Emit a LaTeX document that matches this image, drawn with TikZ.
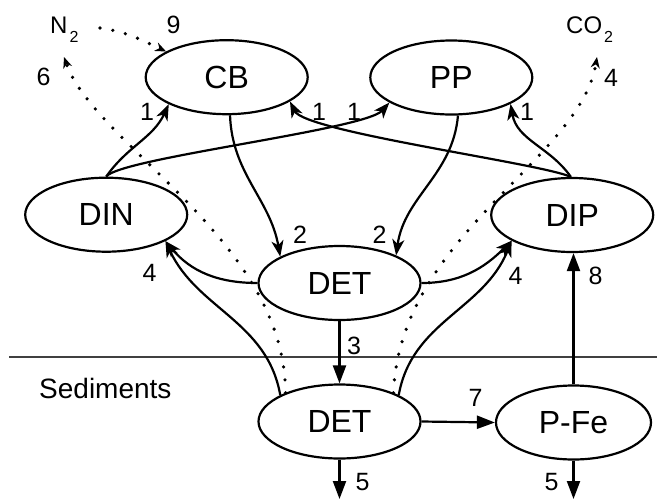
\documentclass[tikz,border=0pt]{standalone}
\usepackage{fontspec}
\setmainfont{Liberation Sans}
\usetikzlibrary{shapes.geometric,arrows.meta}
\newcommand\subtwo{\kern2pt\raisebox{-9pt}{\fontsize{16}{17}\selectfont 2}}
\begin{document}
\begin{tikzpicture}[x=1pt,y=1pt,
 ell/.style={ellipse,draw,line width=2.2pt,minimum width=162pt,minimum height=74pt,inner sep=0pt,font=\fontsize{32}{36}\selectfont},
 flow/.style={line width=2.2pt,-{Stealth[length=16pt,width=12pt,inset=4.5pt]}},
 sflow/.style={line width=2.2pt,-{Triangle[length=18pt,width=13pt]}},
 dotflow/.style={line width=3.6pt,line cap=round,dash pattern=on 0pt off 13pt,-{Stealth[length=11pt,width=9pt,inset=3.5pt]}},
 num/.style={inner sep=0pt,font=\fontsize{25}{28}\selectfont},
 gas/.style={inner sep=0pt,anchor=base west,font=\fontsize{24}{28}\selectfont}]
\path[use as bounding box] (0,0) rectangle (657,-499);

% nodes
\node[ell] (CB)  at (226.7,-77.2) {CB};
\node[ell] (PP)  at (451.3,-77.5) {PP};
\node[ell] (DIN) at (106.2,-214.7) {DIN};
\node[ell] (DIP) at (572.2,-215) {DIP};
\node[ell] (DET) at (339.5,-283) {DET};
\node[ell] (DETs) at (339.5,-421.5) {DET};
\node[ell,minimum width=155pt] (PFe) at (573.5,-422.5) {P-Fe};

\node[gas] (N2) at (50,-33) {N\subtwo};
\node[gas] (CO2) at (566,-33) {CO\subtwo};
\node[inner sep=0pt,anchor=base west,font=\fontsize{28}{32}\selectfont] (sed) at (39,-398) {Sediments};

\coordinate (n2in) at (64,-57);
\coordinate (n2out) at (100,-28);
\coordinate (co2in) at (597,-57);
\coordinate (bot) at (0,-499);

% sediment boundary
\draw[line width=1.5pt,black!75] (9,-357) -- (657,-357);

% uptake (1)
\draw[flow] (DIN.90) to[out=55,in=245] (CB.205);
\draw[flow] (DIN.90) .. controls (120,-158) and (365,-130) .. (PP.202);
\draw[flow] (DIP.92) .. controls (540,-163) and (305,-132) .. (CB.339);
\draw[flow] (DIP.92) to[out=125,in=-80] (PP.336);

% mortality (2)
\draw[flow] (CB.275) to[out=-88,in=100] (DET.156);
\draw[flow] (PP.280) to[out=-95,in=82] (DET.26);

% remineralisation (4)
\draw[flow] (DET.west) to[out=180,in=-50] (DIN.336);
\draw[flow] (DETs.156) to[out=100,in=-65] (DIN.336);
\draw[flow] (DET.east) to[out=0,in=-135] (DIP.203);
\draw[flow] (DETs.24) to[out=80,in=-112] (DIP.203);

% straight fluxes
\draw[sflow] (DET.south) -- (DETs.north);
\draw[sflow] (DETs.east) -- (PFe.west);
\draw[sflow] (PFe.north) -- (PFe.north |- DIP.south);
\draw[sflow] (DETs.south) -- (DETs.south |- bot);
\draw[sflow] (PFe.south) -- (PFe.south |- bot);

% dotted gas fluxes
\draw[dotflow] (DETs.152) .. controls (285,-240) and (95,-145) .. (n2in);
\draw[dotflow] (DETs.28) .. controls (400,-235) and (580,-160) .. (co2in);
\draw[dotflow] (n2out) to[out=-8,in=155] (CB.157);

% labels
\node[num] (a9) at (173.5,-25) {9};
\node[num] (a6) at (43.5,-76.5) {6};
\node[num] (a4c) at (611,-78) {4};
\node[num] (a1a) at (147,-112) {1};
\node[num] (a1b) at (319,-112) {1};
\node[num] (a1c) at (354,-112) {1};
\node[num] (a1d) at (527,-112) {1};
\node[num] (a2a) at (300,-235) {2};
\node[num] (a2b) at (379.5,-235) {2};
\node[num] (a4a) at (149.5,-273) {4};
\node[num] (a4b) at (515.5,-276) {4};
\node[num] (a8) at (595.5,-276) {8};
\node[num] (a3) at (354,-346) {3};
\node[num] (a7) at (475.5,-397.5) {7};
\node[num] (a5a) at (362.5,-482) {5};
\node[num] (a5b) at (551.5,-482.5) {5};
\end{tikzpicture}
\end{document}
